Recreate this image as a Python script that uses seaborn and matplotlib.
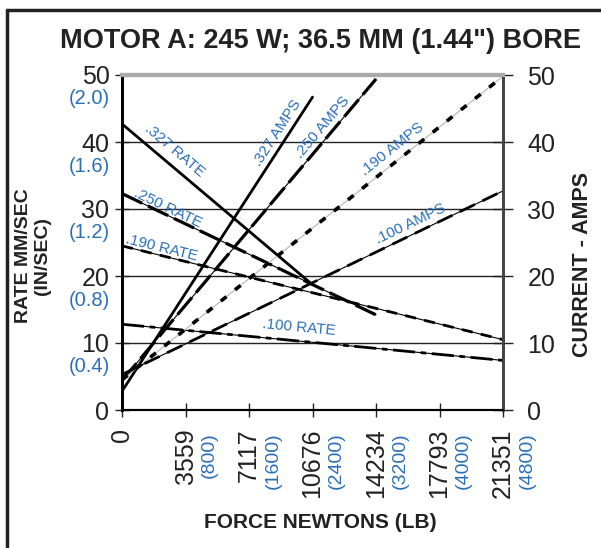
import math

import matplotlib.pyplot as plt
from matplotlib.lines import Line2D
import seaborn as sns

# Force axis (newtons) with pound equivalents
force_n = [0, 3559, 7117, 10676, 14234, 17793, 21351]
force_lb = ["", "(800)", "(1600)", "(2400)", "(3200)", "(4000)", "(4800)"]

# Rate axis (mm/sec) with in/sec equivalents
rate_ticks = [0, 10, 20, 30, 40, 50]
rate_in = ["", "(0.4)", "(0.8)", "(1.2)", "(1.6)", "(2.0)"]
amps_ticks = [0, 10, 20, 30, 40, 50]

# Screw leads
leads = [".327", ".250", ".190", ".100"]

# Rate lines (start / end)
rate_force = [[0, 10676], [0, 14234], [0, 21351], [0, 21351]]
rate_vals = [[42.7, 18.7], [32.3, 14.2], [24.5, 10.5], [12.8, 7.4]]

# Current lines (start / end)
amps_force = [[0, 10676], [0, 14234], [0, 21351], [0, 21351]]
amps_vals = [[2.8, 46.7], [4.4, 49.4], [4.5, 49.8], [5.3, 32.7]]

BLUE = "#2a6fb8"

# base line colour, overlay linestyle, overlay width
rate_styles = {
    ".327": (None, "-", 2.0),
    ".250": ("black", (0, (7, 2)), 2.3),
    ".190": ("black", (0, (4, 3)), 2.0),
    ".100": ("black", (0, (8, 2, 2, 2)), 2.0),
}
amps_styles = {
    ".327": (None, "-", 2.0),
    ".250": ("black", (0, (7, 2)), 2.3),
    ".190": ("#b5b5b5", (0, (2, 3)), 2.6),
    ".100": ("black", (0, (6, 3)), 2.0),
}

# where along each line the label sits (fraction, offset px)
rate_label_pos = {".327": (0.23, 14), ".250": (0.17, 7), ".190": (0.10, 8), ".100": (0.46, 13)}
amps_label_pos = {".327": (0.86, 10), ".250": (0.82, 10), ".190": (0.73, 12), ".100": (0.77, 10)}


def draw_line(ax, xs, ys, style):
    base, ls, lw = style
    if base is not None:
        sns.lineplot(x=xs, y=ys, ax=ax, color=base, lw=0.8)
    sns.lineplot(x=xs, y=ys, ax=ax, color="black", lw=lw, linestyle=ls)


def label_line(ax, xs, ys, text, frac, off):
    """Put a rotated label along a line, offset to its upper side."""
    p0 = ax.transData.transform((xs[0], ys[0]))
    p1 = ax.transData.transform((xs[1], ys[1]))
    dx, dy = p1[0] - p0[0], p1[1] - p0[1]
    ang = math.atan2(dy, dx)
    x = xs[0] + frac * (xs[1] - xs[0])
    y = ys[0] + frac * (ys[1] - ys[0])
    ax.annotate(
        text,
        xy=(x, y),
        xytext=(-math.sin(ang) * off, math.cos(ang) * off),
        textcoords="offset pixels",
        rotation=math.degrees(ang),
        rotation_mode="anchor",
        ha="center",
        va="center",
        color=BLUE,
        fontsize=11,
    )


sns.set_theme(style="white")
plt.rcParams["font.family"] = ["Liberation Sans", "DejaVu Sans"]

fig = plt.figure(figsize=(6.01, 5.48), dpi=100)
ax = fig.add_axes([122 / 601, 1 - 410 / 548, 381 / 601, 335 / 548])
ax2 = ax.twinx()

for a in (ax, ax2):
    a.set_xlim(0, 21351)
    a.set_ylim(0, 50)

# Gridlines
ax.set_yticks(rate_ticks)
ax.yaxis.grid(True, color="#222222", lw=1.0)
ax.set_axisbelow(True)

for lead, xs, ys in zip(leads, rate_force, rate_vals):
    draw_line(ax, xs, ys, rate_styles[lead])
for lead, xs, ys in zip(leads, amps_force, amps_vals):
    draw_line(ax2, xs, ys, amps_styles[lead])

for a in (ax, ax2):
    a.set_xlim(0, 21351)
    a.set_ylim(0, 50)
    a.set_xlabel("")
    a.set_ylabel("")

for lead, xs, ys in zip(leads, rate_force, rate_vals):
    frac, off = rate_label_pos[lead]
    label_line(ax, xs, ys, lead + " RATE", frac, off)
for lead, xs, ys in zip(leads, amps_force, amps_vals):
    frac, off = amps_label_pos[lead]
    label_line(ax2, xs, ys, lead + " AMPS", frac, off)

# Ticks
ax.set_xticks(force_n)
ax.set_xticklabels([str(v) for v in force_n], rotation=90)
ax.set_yticklabels([str(v) for v in rate_ticks])
ax2.set_yticks(amps_ticks)
ax2.set_yticklabels([str(v) for v in amps_ticks])
ax.tick_params(axis="x", direction="inout", length=10, width=1, pad=8,
               labelsize=18, colors="#222222", bottom=True)
ax.tick_params(axis="y", direction="inout", length=10, width=1, pad=4,
               labelsize=18, colors="#222222", left=True)
ax2.tick_params(axis="y", direction="inout", length=15, width=1, pad=10,
                labelsize=18, colors="#222222", right=True)

for n, lb in zip(force_n, force_lb):
    if lb:
        ax.annotate(lb, xy=(n, 0), xycoords=ax.get_xaxis_transform(),
                    xytext=(24, -22), textcoords="offset pixels",
                    rotation=90, ha="center", va="top", color=BLUE,
                    fontsize=14, annotation_clip=False)
for v, lb in zip(rate_ticks, rate_in):
    if lb:
        ax.annotate(lb, xy=(0, v), xycoords=ax.get_yaxis_transform(),
                    xytext=(-12, -24), textcoords="offset pixels",
                    ha="right", va="center", color=BLUE,
                    fontsize=14.5, annotation_clip=False)

# Spines
for a in (ax, ax2):
    a.spines["left"].set(color="black", lw=2)
    a.spines["right"].set(color="#444444", lw=2)
    a.spines["bottom"].set(color="black", lw=1.5)
    a.spines["top"].set(color="#aaaaaa", lw=3)

# Titles and labels
fig.text(321 / 601, 1 - 41 / 548, 'MOTOR A: 245 W; 36.5 MM (1.44") BORE',
         ha="center", va="center", fontsize=19.5, fontweight="bold", color="#222222")
fig.text(320 / 601, 1 - 522 / 548, "FORCE NEWTONS (LB)", ha="center", va="center",
         fontsize=15, fontweight="bold", color="#222222")
fig.text(33 / 601, 1 - 256 / 548, "RATE MM/SEC\n(IN/SEC)", ha="center", va="center",
         rotation=90, fontsize=14, fontweight="bold", color="#222222",
         multialignment="center", linespacing=1.15)
fig.text(583 / 601, 1 - 264 / 548, "CURRENT - AMPS", ha="center", va="center",
         rotation=90, fontsize=15.5, fontweight="bold", color="#222222")

# Frame around the figure
fig.add_artist(Line2D([7 / 601, 7 / 601], [0, 1 - 10 / 548], color="#222222", lw=2.5))
fig.add_artist(Line2D([7 / 601, 1], [1 - 10 / 548, 1 - 10 / 548], color="#222222", lw=2.5))

fig.savefig("out.png", dpi=100)
